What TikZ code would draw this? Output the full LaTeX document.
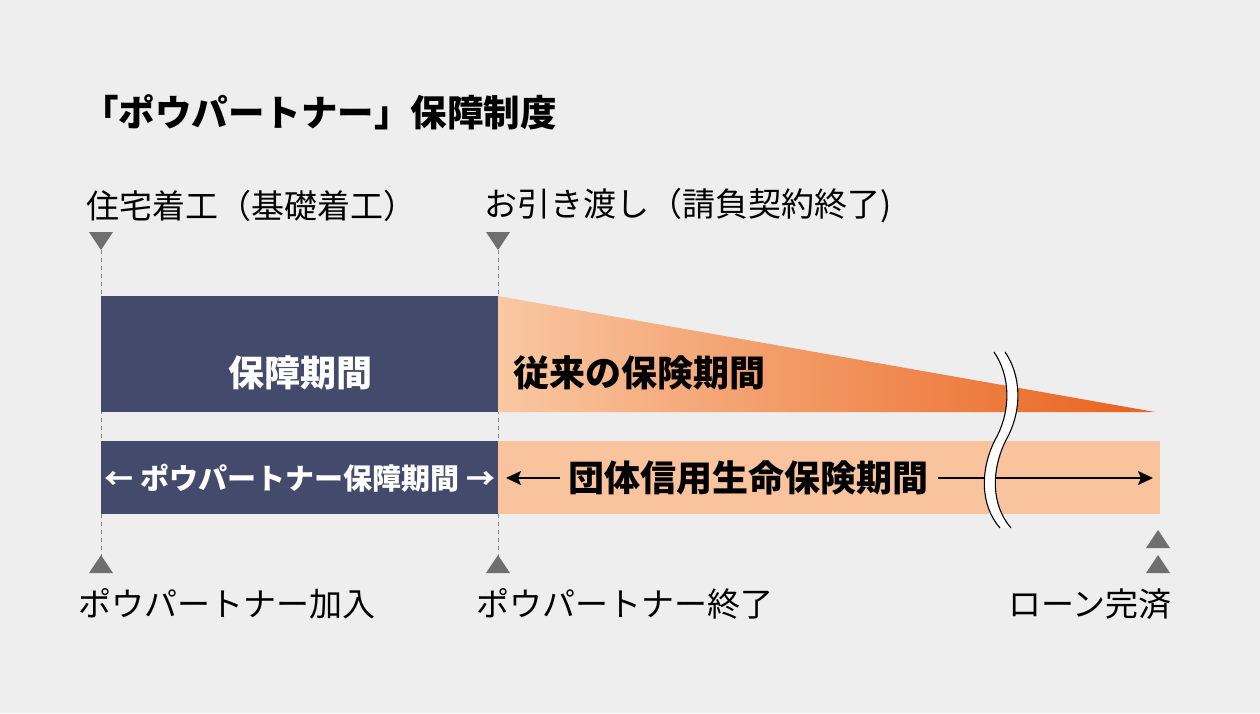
\documentclass[tikz,border=0pt]{standalone}
\usepackage{fontspec}
\newfontfamily\jp{Noto Sans CJK JP}
\usetikzlibrary{arrows.meta}
\definecolor{bg}{HTML}{EEEEEE}
\definecolor{navy}{HTML}{434A6B}
\definecolor{peach}{HTML}{F9C49D}
\definecolor{orangeL}{HTML}{F9C8A2}
\definecolor{orangeD}{HTML}{E9611C}
\definecolor{tri}{HTML}{6F6F6F}
\definecolor{dashc}{HTML}{888888}
\begin{document}
\begin{tikzpicture}[x=1pt,y=-1pt,
  every node/.style={inner sep=0pt, font=\jp},
  title/.style={font=\jp\bfseries\fontsize{36.5}{42}\selectfont, anchor=west},
  lab/.style={font=\jp\fontsize{33}{38}\selectfont, anchor=west},
  big/.style={font=\jp\bfseries\fontsize{36}{42}\selectfont},
  mid/.style={font=\jp\bfseries\fontsize{29}{36}\selectfont},
  guide/.style={draw=dashc, line width=1pt, dash pattern=on 4pt off 4pt},
  downtri/.pic={\fill[tri] (-12,-9)--(12,-9)--(0,9)--cycle;},
  uptri/.pic={\fill[tri] (-12,9)--(12,9)--(0,-9)--cycle;},
  blackarrow/.style={draw=black, line width=2pt, -{Stealth[length=15pt,width=14pt,inset=3pt]}},
  wave/.style={draw=black, line width=1.1pt}
]
\fill[bg] (0,0) rectangle (1260,713);
\useasboundingbox (0,0) rectangle (1260,713);

\node[title] (title) at (82,112) {「ポウパートナー」保障制度};

\node[lab] (start) at (86,206) {住宅着工（基礎着工）};
\node[lab] (handover) at (484,206) {お引き渡し（請負契約終了)};

\coordinate (xA) at (101,241);
\coordinate (xB) at (498,241);
\pic at (xA) {downtri};
\pic at (xB) {downtri};

\draw[guide] (101,250) -- (101,556);
\draw[guide] (498,250) -- (498,556);

% upper row
\fill[navy] (101,296) rectangle (498,412);
\shade[left color=orangeL, right color=orangeD] (498,296) -- (1155,412) -- (498,412) -- cycle;
\node[big, text=white] (hosho) at (300,373) {保障期間};
\node[big, anchor=west] (juurai) at (513,373) {従来の保険期間};

% lower row
\fill[navy] (101,441) rectangle (498,514);
\fill[peach] (498,441) rectangle (1160,514);
\node[mid, text=white] (pp) at (300,478) {← ポウパートナー保障期間 →};
\node[big] (dan) at (748,478) {団体信用生命保険期間};
\coordinate (arL) at (506,478);
\coordinate (arR) at (1153,478);
\draw[blackarrow] ([xshift=-8pt]dan.west) -- (arL);
\draw[blackarrow] ([xshift=10pt]dan.east) -- (arR);

% break mark
\fill[white] (994,352) .. controls (1010,375) and (1012,410) .. (995,440)
  .. controls (980,470) and (980,505) .. (1000,528)
  -- (1011,528) .. controls (991,505) and (991,470) .. (1006,440)
  .. controls (1023,410) and (1021,375) .. (1005,352) -- cycle;
\draw[wave] (994,352) .. controls (1010,375) and (1012,410) .. (995,440)
  .. controls (980,470) and (980,505) .. (1000,528);
\draw[wave] (1005,352) .. controls (1021,375) and (1023,410) .. (1006,440)
  .. controls (991,470) and (991,505) .. (1011,528);

% bottom markers
\pic at (101,564) {uptri};
\pic at (498,564) {uptri};
\pic at (1158,539) {uptri};
\pic at (1158,564) {uptri};

\node[lab] (join) at (78,604) {ポウパートナー加入};
\node[lab] (end) at (476,604) {ポウパートナー終了};
\node[lab] (loan) at (1008,604) {ローン完済};
\end{tikzpicture}
\end{document}
